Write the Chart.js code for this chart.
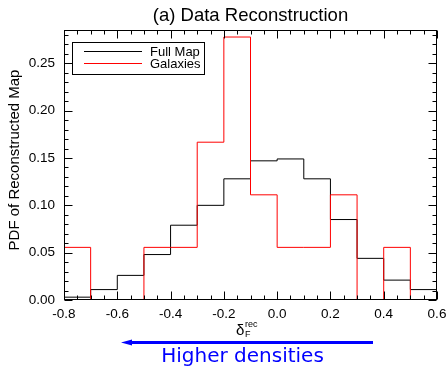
<!DOCTYPE html>
<html>
<head>
<meta charset="utf-8">
<script src="https://cdn.jsdelivr.net/npm/chart.js@4.4.0/dist/chart.umd.min.js"></script>
<style>
  html, body { margin: 0; padding: 0; background: #fff; }
  #chart { display: block; }
</style>
</head>
<body>
<canvas id="chart" width="448" height="367"></canvas>
<script>
// histogram bin edges (delta_F^rec)
const binEdges = [-0.8, -0.7, -0.6, -0.5, -0.4, -0.3, -0.2, -0.1, 0.0, 0.1, 0.2, 0.3, 0.4, 0.5, 0.6];
// PDF per bin
const fullMap = [0.003, 0.011, 0.026, 0.048, 0.079, 0.100, 0.128, 0.147, 0.149, 0.128, 0.085, 0.044, 0.021, 0.011];
const galaxies = [0.0556, 0, 0, 0.0556, 0.0556, 0.1667, 0.2778, 0.1111, 0.0556, 0.0556, 0.1111, 0, 0.0556, 0];

// axis ticks
const xMajorTicks = [-0.8, -0.6, -0.4, -0.2, 0.0, 0.2, 0.4, 0.6];
const yMajorTicks = [0.00, 0.05, 0.10, 0.15, 0.20, 0.25];
const xMinorStep = 0.05;
const yMinorStep = 0.01;

const FONT = "'Liberation Sans', Arial, sans-serif";

// turn bin values into step outline points
function stepPoints(vals) {
    const last = binEdges.length - 1;
    const pts = [{ x: binEdges[0], y: 0 }];
    vals.forEach((v, i) => pts.push({ x: binEdges[i], y: v }));
    pts.push({ x: binEdges[last], y: vals[vals.length - 1] });
    pts.push({ x: binEdges[last], y: 0 });
    return pts;
}

const crisp = v => Math.round(v) + 0.5;

// frame, inward ticks, legend, axis titles and the arrow
const decor = {
    id: 'decor',
    afterDraw(chart) {
        const { ctx, chartArea: a, scales: { x, y } } = chart;
        const L = crisp(a.left), R = crisp(a.right) - 1, T = crisp(a.top), B = crisp(a.bottom) - 1;
        ctx.save();
        ctx.strokeStyle = '#000';
        ctx.lineWidth = 1;
        ctx.strokeRect(L, T, R - L, B - T);

        ctx.beginPath();
        // x ticks, top and bottom
        for (let v = x.min; v <= x.max + 1e-9; v += xMinorStep) {
            const isMajor = xMajorTicks.some(t => Math.abs(t - v) < 1e-6);
            const len = isMajor ? 8 : 4;
            const px = crisp(x.getPixelForValue(v));
            ctx.moveTo(px, B); ctx.lineTo(px, B - len);
            ctx.moveTo(px, T); ctx.lineTo(px, T + len);
        }
        // y ticks, left and right
        for (let v = 0; v <= y.max + 1e-9; v += yMinorStep) {
            const isMajor = yMajorTicks.some(t => Math.abs(t - v) < 1e-6);
            const len = isMajor ? 8 : 4;
            const py = crisp(y.getPixelForValue(v));
            ctx.moveTo(L, py); ctx.lineTo(L + len, py);
            ctx.moveTo(R, py); ctx.lineTo(R - len, py);
        }
        ctx.stroke();

        // legend
        ctx.strokeRect(72.5, 42.5, 132, 32);
        ctx.beginPath();
        ctx.strokeStyle = '#000';
        ctx.moveTo(84, 51.5); ctx.lineTo(142, 51.5);
        ctx.stroke();
        ctx.beginPath();
        ctx.strokeStyle = '#ff0000';
        ctx.moveTo(84, 63.5); ctx.lineTo(142, 63.5);
        ctx.stroke();
        ctx.fillStyle = '#000';
        ctx.font = '13px ' + FONT;
        ctx.textAlign = 'left';
        ctx.textBaseline = 'middle';
        ctx.fillText('Full Map', 150, 52);
        ctx.fillText('Galaxies', 150, 64);

        // y title
        ctx.save();
        ctx.translate(15, 160);
        ctx.rotate(-Math.PI / 2);
        ctx.textAlign = 'center';
        ctx.font = '15px ' + FONT;
        ctx.fillText('PDF of Reconstructed Map', 0, 0);
        ctx.restore();

        // x title: delta_F^rec
        ctx.textAlign = 'left';
        ctx.textBaseline = 'alphabetic';
        ctx.font = '15px ' + FONT;
        ctx.fillText('δ', 236, 335);
        ctx.font = '9px ' + FONT;
        ctx.fillText('rec', 245, 327);
        ctx.fillText('F', 245, 337);

        // arrow
        ctx.strokeStyle = '#0000ff';
        ctx.fillStyle = '#0000ff';
        ctx.lineWidth = 3;
        ctx.beginPath();
        ctx.moveTo(373, 342.5); ctx.lineTo(128, 342.5);
        ctx.stroke();
        ctx.beginPath();
        ctx.moveTo(121, 342.5); ctx.lineTo(132, 339.5); ctx.lineTo(132, 345.5);
        ctx.closePath();
        ctx.fill();
        ctx.font = "20px 'DejaVu Sans', sans-serif";
        ctx.textAlign = 'center';
        ctx.fillText('Higher densities', 242.5, 362);
        ctx.restore();
    }
};

new Chart(document.getElementById('chart'), {
    type: 'line',
    data: {
        datasets: [
            {
                label: 'Galaxies',
                data: stepPoints(galaxies),
                borderColor: '#ff0000',
                order: 0
            },
            {
                label: 'Full Map',
                data: stepPoints(fullMap),
                borderColor: '#000000',
                order: 1
            }
        ]
    },
    options: {
        responsive: false,
        animation: false,
        layout: { padding: { left: 0, right: 11, top: 0, bottom: 0 } },
        elements: {
            line: { borderWidth: 1, stepped: 'before', fill: false, tension: 0 },
            point: { radius: 0, hoverRadius: 0 }
        },
        plugins: {
            legend: { display: false },
            tooltip: { enabled: false },
            title: {
                display: true,
                text: '(a) Data Reconstruction',
                fullSize: false,
                color: '#000',
                font: { family: FONT, size: 18.5, weight: 'normal' },
                padding: { top: 5, bottom: 3 }
            }
        },
        scales: {
            x: {
                type: 'linear',
                min: -0.8,
                max: 0.6,
                grid: { display: false, drawTicks: false },
                border: { display: false },
                afterFit: s => { s.height = 67; s.paddingLeft = 0; s.paddingRight = 0; },
                afterBuildTicks: s => { s.ticks = xMajorTicks.map(v => ({ value: v })); },
                ticks: {
                    color: '#000',
                    padding: 6,
                    maxRotation: 0,
                    font: { family: FONT, size: 13.5 },
                    callback: v => (Math.abs(v) < 1e-9 ? 0 : v).toFixed(1)
                }
            },
            y: {
                type: 'linear',
                min: 0,
                max: 0.285,
                grid: { display: false, drawTicks: false },
                border: { display: false },
                afterFit: s => { s.width = 64; s.paddingTop = 0; s.paddingBottom = 0; },
                afterBuildTicks: s => { s.ticks = yMajorTicks.map(v => ({ value: v })); },
                ticks: {
                    color: '#000',
                    padding: 9,
                    font: { family: FONT, size: 13.5 },
                    callback: v => v.toFixed(2)
                }
            }
        }
    },
    plugins: [decor]
});
</script>
</body>
</html>
